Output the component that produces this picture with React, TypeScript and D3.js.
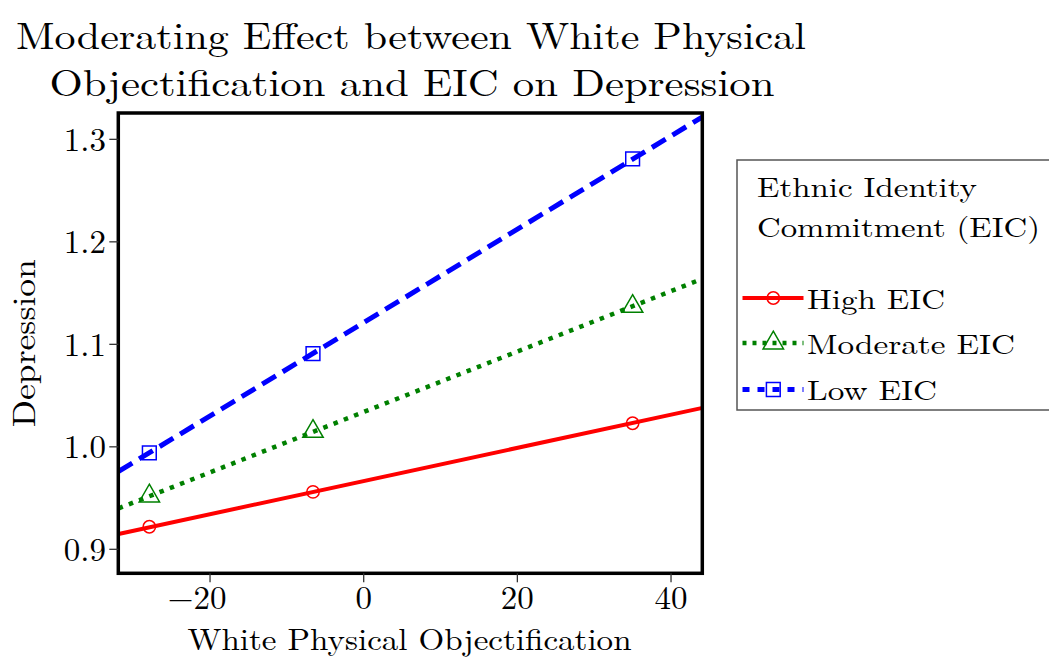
import React from 'react';
import * as d3 from 'd3';

// values
const xTicks = [-20, 0, 20, 40];
const yTicks = [0.9, 1.0, 1.1, 1.2, 1.3];
const markerX = [-27.9, -6.6, 35.0];
const lineX = [-31.9, 44.1];

const highEIC = [0.922, 0.956, 1.023];
const moderateEIC = [0.952, 1.015, 1.137];
const lowEIC = [0.994, 1.091, 1.281];

const highLine = [0.915, 1.038];
const moderateLine = [0.94, 1.164];
const lowLine = [0.976, 1.322];

const seriesNames = ['High EIC', 'Moderate EIC', 'Low EIC'];
const titleLines = ['Moderating Effect between White Physical', 'Objectification and EIC on Depression'];

const FONT = '"Latin Modern Roman", "CMU Serif", "Liberation Serif", serif';

const W = 1049;
const H = 659;
const margin = { top: 113, right: W - 702.3, bottom: H - 573.3, left: 118.3 };

const series = [
  { name: seriesNames[0], values: highEIC, line: highLine, color: '#ff0000', width: 4, dash: null, symbol: d3.symbolCircle, size: 120 },
  { name: seriesNames[1], values: moderateEIC, line: moderateLine, color: '#008000', width: 4.5, dash: '4.5,6.5', symbol: d3.symbolTriangle, size: 180 },
  { name: seriesNames[2], values: lowEIC, line: lowLine, color: '#0000ff', width: 5, dash: '16,8', symbol: d3.symbolSquare, size: 190 },
];

const App = () => {
  const x = d3.scaleLinear().domain([-31.94, 44.07]).range([margin.left, W - margin.right]);
  const y = d3.scaleLinear().domain([0.8766, 1.3257]).range([H - margin.bottom, margin.top]);

  const line = d3
    .line<[number, number]>()
    .x((d) => x(d[0]))
    .y((d) => y(d[1]));

  const plotW = W - margin.left - margin.right;
  const plotH = H - margin.top - margin.bottom;

  const tickFs = 33;

  // legend
  const lg = { x: 737, y: 160, w: 330, h: 250 };
  const legendRows = [298, 343, 389.5];

  return (
    <svg width={W} height={H} style={{ position: 'absolute', left: 0, top: 0, display: 'block', background: '#fff' }} fontFamily={FONT}>
      <defs>
        <clipPath id="plot-clip">
          <rect x={margin.left} y={margin.top} width={plotW} height={plotH} />
        </clipPath>
      </defs>

      {/* title */}
      <text x={411} y={48.5} fontSize={38} textAnchor="middle" textLength={790} lengthAdjust="spacingAndGlyphs">
        {titleLines[0]}
      </text>
      <text x={412} y={95.5} fontSize={38} textAnchor="middle" textLength={725} lengthAdjust="spacingAndGlyphs">
        {titleLines[1]}
      </text>

      {/* series */}
      <g clipPath="url(#plot-clip)">
        {series.map((s) => (
          <path
            key={s.name}
            d={line(lineX.map((v, i) => [v, s.line[i]]) as [number, number][]) || ''}
            fill="none"
            stroke={s.color}
            strokeWidth={s.width}
            strokeDasharray={s.dash || undefined}
          />
        ))}
        {series.map((s) =>
          s.values.map((v, i) => (
            <path
              key={s.name + i}
              transform={`translate(${x(markerX[i])},${y(v)})`}
              d={d3.symbol().type(s.symbol).size(s.size)() || ''}
              fill="none"
              stroke={s.color}
              strokeWidth={1.5}
            />
          ))
        )}
      </g>

      {/* frame */}
      <rect x={margin.left} y={margin.top} width={plotW} height={plotH} fill="none" stroke="#000" strokeWidth={3.5} />

      {/* y axis */}
      {yTicks.map((t) => (
        <g key={t}>
          <line x1={margin.left - 9} x2={margin.left} y1={y(t)} y2={y(t)} stroke="#333" strokeWidth={1.3} />
          <text x={106} y={y(t) + 11.5} fontSize={tickFs} textAnchor="end">
            {t.toFixed(1)}
          </text>
        </g>
      ))}

      {/* x axis: digits centred on the tick, minus sign hangs to the left */}
      {xTicks.map((t) => {
        const digits = String(Math.abs(t));
        const half = (digits.length * 0.5 * tickFs) / 2;
        return (
          <g key={t}>
            <line x1={x(t)} x2={x(t)} y1={H - margin.bottom} y2={H - margin.bottom + 9} stroke="#333" strokeWidth={1.3} />
            <text x={x(t) + half} y={609} fontSize={tickFs} textAnchor="end">
              {(t < 0 ? '\u2212' : '') + digits}
            </text>
          </g>
        );
      })}

      {/* axis titles */}
      <text x={409.5} y={650} fontSize={30} textAnchor="middle" textLength={444} lengthAdjust="spacingAndGlyphs">
        White Physical Objectification
      </text>
      <text
        transform={`translate(35,${margin.top + plotH / 2}) rotate(-90)`}
        fontSize={32}
        textAnchor="middle"
        textLength={168}
        lengthAdjust="spacingAndGlyphs"
      >
        Depression
      </text>

      {/* legend */}
      <rect x={lg.x} y={lg.y} width={lg.w} height={lg.h} fill="#fff" stroke="#555" strokeWidth={1.5} />
      <text fontSize={28}>
        <tspan x={757} y={196.7} textLength={220} lengthAdjust="spacingAndGlyphs">
          Ethnic Identity
        </tspan>
        <tspan x={757} y={236.7} textLength={283} lengthAdjust="spacingAndGlyphs">
          Commitment (EIC)
        </tspan>
      </text>
      {series.map((s, i) => (
        <g key={s.name}>
          <line
            x1={742.5}
            x2={803.5}
            y1={legendRows[i]}
            y2={legendRows[i]}
            stroke={s.color}
            strokeWidth={s.width}
            strokeDasharray={s.dash ? (i === 2 ? '7,8' : '4,6') : undefined}
          />
          <path
            transform={`translate(773.3,${legendRows[i]})`}
            d={d3.symbol().type(s.symbol).size(s.size)() || ''}
            fill="none"
            stroke={s.color}
            strokeWidth={1.5}
          />
          <text x={807} y={legendRows[i] + 10.5} fontSize={28} textLength={i === 1 ? 208 : i === 0 ? 138 : 130} lengthAdjust="spacingAndGlyphs">
            {s.name}
          </text>
        </g>
      ))}
    </svg>
  );
};

export default App;
